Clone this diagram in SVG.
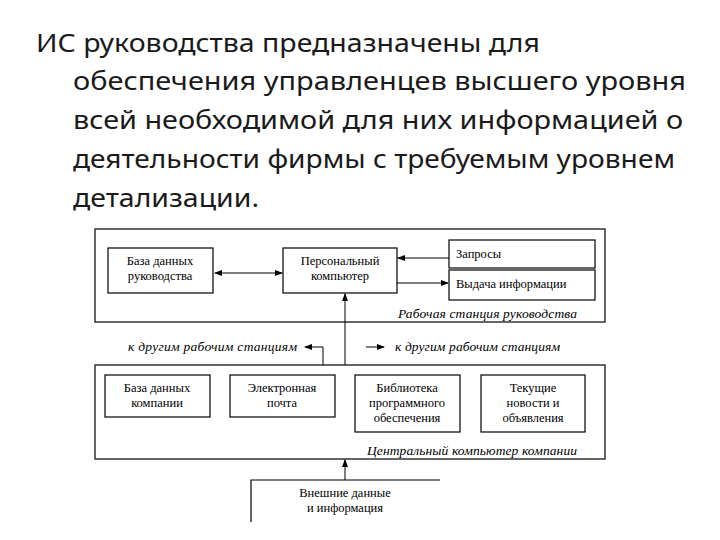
<svg xmlns="http://www.w3.org/2000/svg" width="720" height="540" viewBox="0 0 720 540">
<style>
.t{font-family:"Noto Sans","Liberation Sans",sans-serif;font-size:25px;fill:#1a1a1a}
.b{fill:none;stroke:#000;stroke-width:1.2}
.s{font-family:"Liberation Serif",serif;font-size:12.5px;fill:#000;text-anchor:middle}
.i{font-family:"Liberation Serif",serif;font-size:13.5px;font-style:italic;fill:#000}
.c{stroke:#000;stroke-width:1;fill:none}
</style>
<defs><marker id="a" markerWidth="8" markerHeight="6" refX="7" refY="3" orient="auto-start-reverse" markerUnits="userSpaceOnUse"><path d="M0,0L8,3L0,6z" fill="#000"/></marker></defs>
<rect width="720" height="540" fill="#fff"/>
<g id="title">
<text class="t" x="36" y="52" textLength="504" lengthAdjust="spacingAndGlyphs">ИС руководства предназначены для</text>
<text class="t" x="73" y="90" textLength="613" lengthAdjust="spacingAndGlyphs">обеспечения управленцев высшего уровня</text>
<text class="t" x="73" y="129" textLength="610" lengthAdjust="spacingAndGlyphs">всей необходимой для них информацией о</text>
<text class="t" x="73" y="168" textLength="602" lengthAdjust="spacingAndGlyphs">деятельности фирмы с требуемым уровнем</text>
<text class="t" x="73" y="207" textLength="186" lengthAdjust="spacingAndGlyphs">детализации.</text>
</g>
<g id="workstation"><rect class="b" x="95" y="229" width="510" height="93"/><text class="i" x="398" y="318" textLength="179">Рабочая станция руководства</text></g>
<g id="db-mgmt"><rect class="b" x="108" y="248" width="105" height="45"/><text class="s" x="160" y="265">База данных</text><text class="s" x="160" y="280">руководства</text></g>
<g id="pc"><rect class="b" x="283" y="248" width="114" height="45"/><text class="s" x="340" y="265">Персональный</text><text class="s" x="340" y="280">компьютер</text></g>
<g id="queries"><rect class="b" x="449" y="240" width="146" height="28"/><text class="s" x="456" y="258" style="text-anchor:start">Запросы</text></g>
<g id="output"><rect class="b" x="449" y="270" width="146" height="30"/><text class="s" x="456" y="288" style="text-anchor:start">Выдача информации</text></g>
<g id="labels-other"><text class="i" x="128" y="351" textLength="169">к другим рабочим станциям</text><text class="i" x="395" y="351" textLength="165">к другим рабочим станциям</text></g>
<g id="central"><rect class="b" x="95" y="365" width="510" height="94"/><text class="i" x="367" y="455" textLength="210">Центральный компьютер компании</text></g>
<g id="db-company"><rect class="b" x="105" y="375" width="105" height="42"/><text class="s" x="157" y="392">База данных</text><text class="s" x="157" y="407">компании</text></g>
<g id="email"><rect class="b" x="230" y="375" width="105" height="42"/><text class="s" x="282" y="392">Электронная</text><text class="s" x="282" y="407">почта</text></g>
<g id="library"><rect class="b" x="355" y="375" width="105" height="57"/><text class="s" x="407" y="392">Библиотека</text><text class="s" x="407" y="407">программного</text><text class="s" x="407" y="422">обеспечения</text></g>
<g id="news"><rect class="b" x="481" y="375" width="104" height="57"/><text class="s" x="533" y="392">Текущие</text><text class="s" x="533" y="407">новости и</text><text class="s" x="533" y="422">объявления</text></g>
<g id="external"><path class="b" d="M251,522V480H440"/><text class="s" x="345" y="497">Внешние данные</text><text class="s" x="345" y="512">и информация</text></g>
<g id="connectors">
<line class="c" x1="215" y1="273" x2="282" y2="273" marker-start="url(#a)" marker-end="url(#a)"/>
<line class="c" x1="449" y1="258" x2="398" y2="258" marker-end="url(#a)"/>
<line class="c" x1="397" y1="283" x2="448" y2="283" marker-end="url(#a)"/>
<line class="c" x1="345" y1="365" x2="345" y2="294" marker-end="url(#a)"/>
<path class="c" d="M323,365V347H305" marker-end="url(#a)"/>
<line class="c" x1="366" y1="347" x2="384" y2="347" marker-end="url(#a)"/>
<line class="c" x1="345" y1="480" x2="345" y2="460" marker-end="url(#a)"/>
</g>
</svg>
